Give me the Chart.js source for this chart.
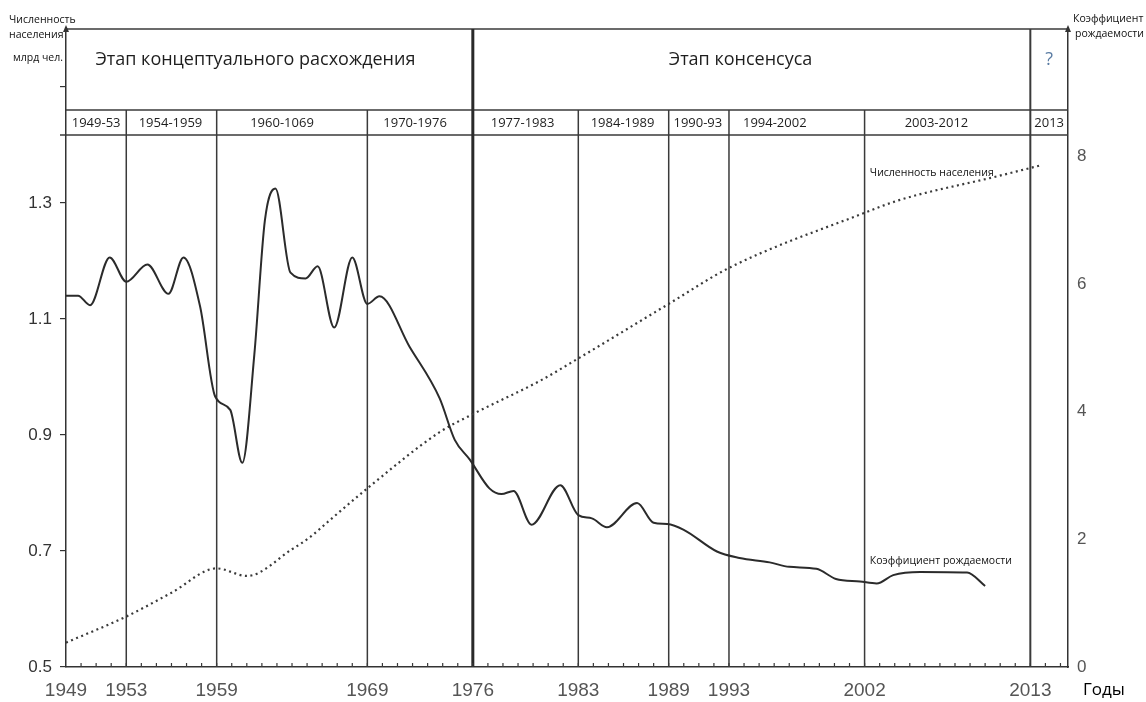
<!DOCTYPE html>
<html><head><meta charset="utf-8">
<script src="https://cdn.jsdelivr.net/npm/chart.js@4.4.1/dist/chart.umd.min.js"></script>
<style>html,body{margin:0;padding:0;background:#fff;}#wrap{width:1146px;height:702px;position:relative;}</style>
</head><body><div id="wrap"><canvas id="c" width="1146" height="702"></canvas></div>
<script>
// ---- data ----
const fertilityYears = [1949, 1949.8, 1950.6, 1951.9, 1953.0, 1954.4, 1955.8, 1956.8, 1957.9, 1958.9, 1959.9, 1960.7, 1961.5, 1962.2, 1962.9, 1963.9, 1964.9, 1965.7, 1966.8, 1968.0, 1969.0, 1969.8, 1971.8, 1973.8, 1974.8, 1975.8, 1977.1, 1977.9, 1978.7, 1979.9, 1981.8, 1983.0, 1983.9, 1984.9, 1986.9, 1988.0, 1988.9, 1990.0, 1992.2, 1993.7, 1995.7, 1997.0, 1998.8, 2000.1, 2001.7, 2002.8, 2003.9, 2005.7, 2008.8, 2010.0];
const fertilityValues = [5.82, 5.82, 5.67, 6.42, 6.04, 6.31, 5.85, 6.42, 5.65, 4.24, 4.03, 3.20, 4.9, 7.0, 7.50, 6.18, 6.09, 6.28, 5.32, 6.42, 5.69, 5.81, 5.02, 4.21, 3.56, 3.25, 2.80, 2.71, 2.76, 2.23, 2.85, 2.38, 2.33, 2.19, 2.57, 2.26, 2.24, 2.15, 1.81, 1.71, 1.64, 1.57, 1.54, 1.38, 1.34, 1.31, 1.44, 1.49, 1.48, 1.27];
const populationYears = [1949, 1953, 1956, 1959, 1961, 1964, 1965.2, 1966.5, 1969, 1973.8, 1976, 1980.5, 1983, 1989, 1993, 2002, 2004.3, 2010.8, 2013.7];
const populationValues = [0.542, 0.587, 0.628, 0.670, 0.657, 0.703, 0.724, 0.753, 0.808, 0.905, 0.936, 0.994, 1.032, 1.126, 1.188, 1.283, 1.305, 1.346, 1.365];
const xTickYears = [1949, 1953, 1959, 1969, 1976, 1983, 1989, 1993, 2002, 2013];
const leftTicks = [0.5, 0.7, 0.9, 1.1, 1.3, 1.5];
const rightTicks = [0, 2, 4, 6, 8];
const periodLabels = ['1949-53', '1954-1959', '1960-1069', '1970-1976', '1977-1983', '1984-1989', '1990-93', '1994-2002', '2003-2012', '2013'];
const periodEdges = [1949, 1953, 1959, 1969, 1976, 1983, 1989, 1993, 2002, 2013, 2015.5];
const phaseLabels = ['Этап концептуального расхождения', 'Этап консенсуса', '?'];
const phaseEdges = [1949, 1976, 2013, 2015.5];

// ---- styling helpers (not data) ----
const periodShift = [0, -1, -10, -5, -3, -1, -1, -22, -11, 0];
const phaseShift = [-14, -11, 0];

const decor = {
  id: 'decor',
  beforeDatasetsDraw(chart) {
    const {ctx, chartArea: a, scales: {x}} = chart;
    const X = v => x.getPixelForValue(v);
    const rowTop = a.top + 81, rowBot = a.top + 106;
    const line = (x1, y1, x2, y2) => { ctx.beginPath(); ctx.moveTo(x1, y1); ctx.lineTo(x2, y2); ctx.stroke(); };
    ctx.save();
    ctx.strokeStyle = '#3a3a3a';
    ctx.lineWidth = 1.5;
    line(a.left, a.top, a.right, a.top);
    line(a.left, rowTop, a.right, rowTop);
    line(a.left - 6, rowBot, a.right, rowBot);
    for (let i = 1; i < periodEdges.length - 1; i++) {
      const v = periodEdges[i];
      if (phaseEdges.includes(v)) continue;
      line(X(v), rowTop, X(v), a.bottom);
    }
    ctx.lineWidth = 3; ctx.strokeStyle = '#2a2a2a';
    line(X(phaseEdges[1]), a.top, X(phaseEdges[1]), a.bottom);
    ctx.lineWidth = 2; ctx.strokeStyle = '#3a3a3a';
    line(X(phaseEdges[2]), a.top, X(phaseEdges[2]), a.bottom);
    // minor year ticks
    ctx.lineWidth = 1.2;
    for (let yr = 1950; yr <= 2015; yr++) line(X(yr), a.bottom, X(yr), a.bottom - 4);
    // arrows
    ctx.fillStyle = '#333';
    [a.left, a.right].forEach(px => {
      ctx.beginPath(); ctx.moveTo(px, a.top - 4); ctx.lineTo(px - 3, a.top + 3); ctx.lineTo(px + 3, a.top + 3); ctx.closePath(); ctx.fill();
    });
    // phase labels
    ctx.textAlign = 'center'; ctx.textBaseline = 'middle';
    ctx.font = '18px "Open Sans"';
    for (let i = 0; i < phaseLabels.length; i++) {
      ctx.fillStyle = i === 2 ? '#5a7ca3' : '#1e1e1e';
      const cx = (X(phaseEdges[i]) + X(phaseEdges[i + 1])) / 2 + phaseShift[i];
      ctx.fillText(phaseLabels[i], cx, a.top + 31);
    }
    ctx.font = '13px "Open Sans"'; ctx.fillStyle = '#1e1e1e';
    for (let i = 0; i < periodLabels.length; i++) {
      const cx = (X(periodEdges[i]) + X(periodEdges[i + 1])) / 2 + periodShift[i];
      ctx.fillText(periodLabels[i], cx, rowTop + 13);
    }
    // series annotations
    const yl = chart.scales.y, yr = chart.scales.y2;
    ctx.textAlign = 'left'; ctx.font = '10.5px "Open Sans"'; ctx.fillStyle = '#111';
    ctx.fillText('Численность населения', X(2002.35), yl.getPixelForValue(1.352));
    ctx.fillText('Коэффициент рождаемости', X(2002.35), yr.getPixelForValue(1.66));
    // axis titles
    ctx.font = '10.5px "Open Sans"';
    ctx.fillText('Численность', 9, 20);
    ctx.fillText('населения', 9, 35);
    ctx.fillText('млрд чел.', 13, 58);
    ctx.fillText('Коэффициент', 1073, 19);
    ctx.fillText('рождаемости', 1075, 34);
    ctx.font = '17px "Open Sans"'; ctx.fillStyle = '#000';
    ctx.fillText('Годы', 1083, 690);
    ctx.restore();
  }
};

const tickFont = {family: '"Liberation Sans", Arial, sans-serif', size: 19};
new Chart(document.getElementById('c'), {
  type: 'line',
  data: {
    datasets: [
      {
        label: 'Коэффициент рождаемости',
        data: fertilityYears.map((yv, i) => ({x: yv, y: fertilityValues[i]})),
        yAxisID: 'y2', borderColor: '#2b2b2b', borderWidth: 2, pointRadius: 0,
        cubicInterpolationMode: 'monotone', fill: false
      },
      {
        label: 'Численность населения',
        data: populationYears.map((yv, i) => ({x: yv, y: populationValues[i]})),
        yAxisID: 'y', borderColor: '#3a3a3a', borderWidth: 2.2, borderDash: [2, 3.5], pointRadius: 0,
        cubicInterpolationMode: 'monotone', fill: false
      }
    ]
  },
  options: {
    responsive: false, animation: false,
    layout: {padding: {top: 29, left: 0, right: 0, bottom: 0}},
    plugins: {legend: {display: false}, tooltip: {enabled: false}, title: {display: false}},
    scales: {
      x: {
        type: 'linear', min: 1949, max: 2015.5,
        afterBuildTicks: s => { s.ticks = xTickYears.map(v => ({value: v})); },
        afterFit: s => { s.height = 35; s.paddingLeft = 0; s.paddingRight = 0; },
        grid: {display: true, drawOnChartArea: false, drawTicks: false},
        border: {display: true, color: '#333', width: 1.5},
        ticks: {autoSkip: false, maxRotation: 0, padding: 12, color: '#555', font: tickFont, callback: v => String(v)}
      },
      y: {
        type: 'linear', position: 'left', min: 0.5, max: 1.6,
        afterBuildTicks: s => { s.ticks = leftTicks.map(v => ({value: v})); },
        afterFit: s => { s.width = 66; s.paddingTop = 0; s.paddingBottom = 0; },
        grid: {drawOnChartArea: false, drawTicks: true, tickLength: 6, color: '#333', lineWidth: 1.2},
        border: {display: true, color: '#333', width: 1.5},
        ticks: {padding: 8, color: '#333', font: {family: '"Liberation Sans", Arial, sans-serif', size: 17},
          callback: v => (Math.abs(v - 1.5) < 1e-6 ? '' : v.toFixed(1))}
      },
      y2: {
        type: 'linear', position: 'right', min: 0, max: 10,
        afterBuildTicks: s => { s.ticks = rightTicks.map(v => ({value: v})); },
        afterFit: s => { s.width = 78; s.paddingTop = 0; s.paddingBottom = 0; },
        grid: {drawOnChartArea: false, drawTicks: false},
        border: {display: true, color: '#333', width: 1.5},
        ticks: {padding: 9, color: '#555', font: {family: '"Liberation Sans", Arial, sans-serif', size: 17},
          callback: v => String(v)}
      }
    }
  },
  plugins: [decor]
});
</script>
</body></html>
